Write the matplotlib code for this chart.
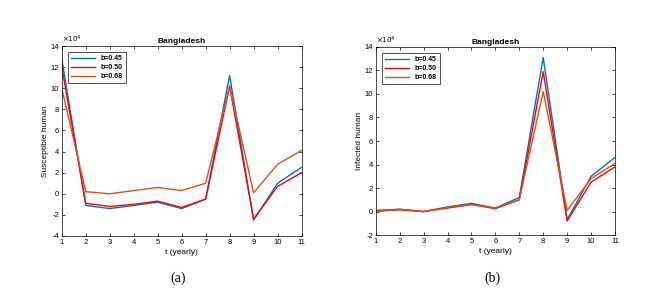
import numpy as np
import matplotlib.pyplot as plt

# data (values in units of 1e4)
t = np.arange(1, 12)
labels = ['b=0.45', 'b=0.50', 'b=0.68']
colors = ['#0072BD', '#FF0000', '#D95319']

sus_045 = [12.8, -1.1, -1.4, -1.1, -0.8, -1.4, -0.5, 11.2, -2.5, 1.0, 2.5]
sus_050 = [12.0, -0.9, -1.2, -1.0, -0.7, -1.3, -0.5, 10.2, -2.4, 0.7, 2.0]
sus_068 = [10.0, 0.2, 0.0, 0.3, 0.6, 0.3, 1.0, 10.2, 0.1, 2.8, 4.1]

inf_045 = [0.1, 0.2, 0.0, 0.4, 0.7, 0.3, 1.2, 13.1, -0.7, 3.0, 4.6]
inf_050 = [0.05, 0.15, 0.0, 0.3, 0.6, 0.25, 1.0, 11.9, -0.8, 2.5, 3.8]
inf_068 = [0.0, 0.2, 0.0, 0.35, 0.6, 0.3, 1.0, 10.2, 0.1, 2.8, 4.1]

plt.rcParams['font.family'] = 'Liberation Sans'
plt.rcParams['font.size'] = 5.5

fig = plt.figure(figsize=(6.57, 2.95), dpi=100)

def panel(rect, series, ylab, ylim, caption):
    ax = fig.add_axes(rect)
    for y, c, lab in zip(series, colors, labels):
        ax.plot(t, np.array(y) * 1e4, color=c, lw=1.0, label=lab)
    ax.set_xlim(1, 11)
    ax.set_ylim(ylim[0] * 1e4, ylim[1] * 1e4)
    ax.set_xticks(t)
    ax.set_yticks(np.arange(ylim[0], ylim[1] + 1, 2) * 1e4)
    ax.set_yticklabels([str(v) for v in range(ylim[0], ylim[1] + 1, 2)])
    ax.tick_params(direction='in', length=2.5, width=0.5, top=True, right=True, pad=2)
    for s in ax.spines.values():
        s.set_linewidth(0.5)
    ax.set_title('Bangladesh', fontsize=6, fontweight='bold', pad=2)
    ax.set_xlabel('t (yearly)', fontsize=6, labelpad=2)
    ax.set_ylabel(ylab, fontsize=6, labelpad=1)
    ax.text(0, 1.005, r'$\times10^4$', transform=ax.transAxes, fontsize=5, va='bottom', ha='left')
    leg = ax.legend(loc='upper left', fontsize=5, frameon=True, fancybox=False,
                    handlelength=3.5, borderpad=0.4, labelspacing=0.3,
                    borderaxespad=0.9)
    leg.get_frame().set_edgecolor('black')
    leg.get_frame().set_linewidth(0.6)
    for txt in leg.get_texts():
        txt.set_fontweight('bold')
    fig.text(rect[0] + rect[2] / 2 - 0.005, 0.035, caption, fontsize=10,
             family='Liberation Serif', ha='center', va='bottom')
    return ax

panel([0.094, 0.20, 0.365, 0.644], [sus_045, sus_050, sus_068],
      'Susceptible human', (-4, 14), '(a)')
panel([0.572, 0.203, 0.364, 0.638], [inf_045, inf_050, inf_068],
      'Infected human', (-2, 14), '(b)')

plt.savefig('out.png', dpi=100)
